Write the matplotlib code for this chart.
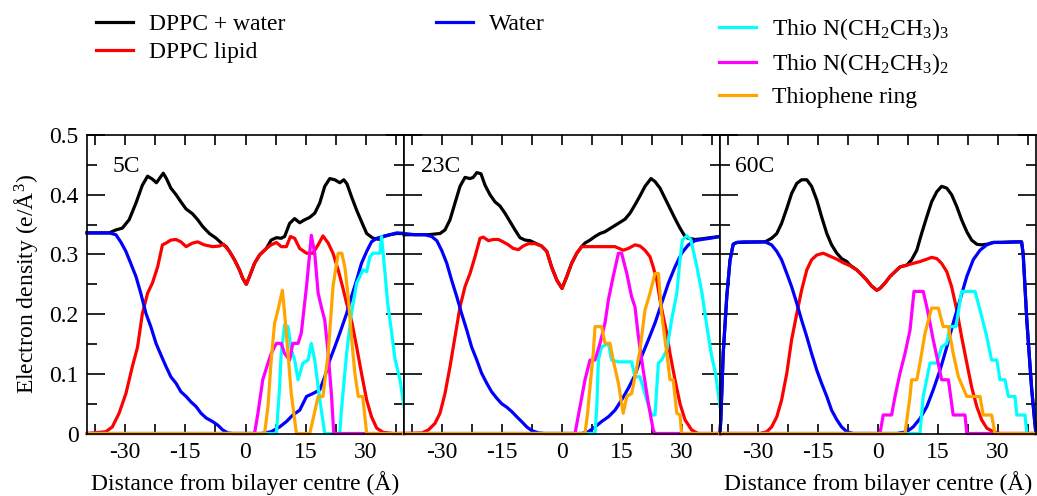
import numpy as np
import matplotlib
matplotlib.use("Agg")
import matplotlib.pyplot as plt
from matplotlib.ticker import MultipleLocator

plt.rcParams["font.family"] = ["Liberation Serif", "DejaVu Serif"]
plt.rcParams["font.size"] = 17
plt.rcParams["mathtext.fontset"] = "custom"
plt.rcParams["mathtext.rm"] = "Liberation Serif"
plt.rcParams["mathtext.it"] = "Liberation Serif:italic"
plt.rcParams["axes.unicode_minus"] = False

# ---- data: (distance in Angstrom, electron density) ----
temps = ["5C", "23C", "60C"]
labels = ["DPPC + water", "DPPC lipid", "Water",
          r"Thio N(CH$_2$CH$_3$)$_3$", r"Thio N(CH$_2$CH$_3$)$_2$", "Thiophene ring"]
colors = ["black", "#ff0000", "#0000ff", "#00ffff", "#ff00ff", "#ffa500"]

# 5C
total_5C = np.array([(-39.5, 0.336), (-34.0, 0.336), (-32.3, 0.341), (-30.7, 0.344), (-29.0, 0.358),
    (-27.3, 0.386), (-25.7, 0.416), (-24.4, 0.431), (-23.2, 0.426), (-22.2, 0.420), (-20.5, 0.436),
    (-19.7, 0.427), (-18.6, 0.411), (-17.3, 0.400), (-16.1, 0.388), (-14.8, 0.376), (-13.2, 0.368),
    (-11.9, 0.358), (-10.7, 0.347), (-9.0, 0.335), (-7.3, 0.327), (-5.7, 0.317), (-4.8, 0.313),
    (-4.0, 0.305), (-2.75, 0.291), (-1.5, 0.274), (-0.7, 0.260), (0.2, 0.250), (1.0, 0.263),
    (2.25, 0.285), (3.5, 0.299), (5.2, 0.310), (6.4, 0.324), (7.7, 0.328), (8.9, 0.327), (9.75, 0.330),
    (11.0, 0.352), (12.25, 0.360), (13.5, 0.353), (14.75, 0.358), (16.0, 0.362), (17.25, 0.369),
    (18.5, 0.386), (19.75, 0.414), (21.0, 0.427), (22.25, 0.425), (23.5, 0.420), (24.5, 0.425),
    (25.3, 0.418), (26.4, 0.397), (27.7, 0.374), (28.9, 0.355), (30.2, 0.335), (31.8, 0.327),
    (33.5, 0.325), (34.3, 0.330), (36.0, 0.333), (37.7, 0.335), (39.5, 0.335)])
lipid_5C = np.array([(-39.5, 0), (-34.8, 0.003), (-33.2, 0.011), (-31.5, 0.034), (-29.8, 0.067),
    (-28.2, 0.112), (-26.9, 0.145), (-25.7, 0.201), (-24.4, 0.235), (-23.2, 0.252), (-21.9, 0.279),
    (-20.7, 0.316), (-19.8, 0.319), (-18.6, 0.324), (-17.3, 0.325), (-16.1, 0.321), (-14.8, 0.313),
    (-13.2, 0.319), (-11.9, 0.321), (-10.3, 0.316), (-8.2, 0.313), (-6.5, 0.314), (-5.5, 0.317),
    (-4.0, 0.305), (-2.75, 0.291), (-1.5, 0.274), (-0.7, 0.260), (0.2, 0.250), (1.0, 0.263),
    (2.25, 0.285), (3.5, 0.299), (5.2, 0.310), (6.4, 0.316), (7.7, 0.320), (8.9, 0.313), (10.2, 0.313),
    (11.2, 0.330), (12.25, 0.327), (13.5, 0.310), (15.2, 0.302), (16.8, 0.302), (18.1, 0.316),
    (19.3, 0.331), (20.6, 0.319), (21.8, 0.302), (23.1, 0.274), (24.3, 0.243), (25.2, 0.218),
    (26.4, 0.190), (27.7, 0.145), (28.9, 0.101), (30.2, 0.056), (31.4, 0.028), (32.7, 0.009),
    (34.3, 0.002), (36.8, 0), (39.5, 0)])
water_5C = np.array([(-39.5, 0.336), (-34.0, 0.336), (-32.3, 0.333), (-31.1, 0.321), (-29.8, 0.305),
    (-28.6, 0.285), (-27.3, 0.263), (-26.1, 0.235), (-24.8, 0.201), (-23.6, 0.179), (-22.3, 0.151),
    (-21.1, 0.132), (-19.8, 0.112), (-18.6, 0.095), (-17.3, 0.084), (-16.1, 0.070), (-14.8, 0.062),
    (-13.6, 0.053), (-12.3, 0.045), (-11.1, 0.034), (-9.8, 0.026), (-8.2, 0.020), (-6.9, 0.014),
    (-5.7, 0.006), (-4.4, 0.001), (-3.2, 0), (3.9, 0), (6.4, 0.003), (8.5, 0.011), (10.2, 0.020),
    (11.8, 0.031), (13.5, 0.039), (15.2, 0.062), (16.8, 0.067), (18.5, 0.073), (19.75, 0.095),
    (21.0, 0.123), (22.25, 0.145), (23.5, 0.168), (25.2, 0.201), (26.4, 0.229), (27.7, 0.257),
    (28.9, 0.285), (30.2, 0.305), (31.4, 0.321), (32.7, 0.327), (34.3, 0.330), (36.0, 0.333),
    (37.7, 0.336), (39.5, 0.335)])
thio3_5C = np.array([(-39.5, 0), (7.7, 0), (8.5, 0.078), (8.9, 0.134), (9.75, 0.182), (10.6, 0.179),
    (11.4, 0.140), (12.25, 0.123), (13.1, 0.090), (14.3, 0.118), (15.6, 0.123), (16.4, 0.151),
    (17.25, 0.123), (18.1, 0.078), (18.9, 0.039), (19.75, 0), (23.5, 0), (23.9, 0.039), (25.2, 0.134),
    (26.4, 0.201), (27.7, 0.252), (29.3, 0.274), (30.2, 0.271), (31.0, 0.296), (31.8, 0.302),
    (33.5, 0.302), (33.9, 0.330), (34.75, 0.27), (35.4, 0.22), (36.4, 0.17), (37.25, 0.125),
    (38.5, 0.09), (39.5, 0.045)])
thio2_5C = np.array([(-39.5, 0), (2.25, 0), (3.1, 0.034), (4.3, 0.090), (5.6, 0.118), (6.4, 0.134),
    (7.7, 0.151), (8.9, 0.151), (9.75, 0.134), (11.0, 0.123), (11.8, 0.151), (13.1, 0.151),
    (13.9, 0.168), (15.2, 0.246), (16.0, 0.302), (16.4, 0.332), (17.25, 0.302), (18.1, 0.235),
    (18.9, 0.212), (19.75, 0.190), (20.6, 0.134), (21.4, 0.067), (22.0, 0), (39.5, 0)])
ring_5C = np.array([(-39.5, 0), (4.75, 0), (5.6, 0.045), (6.4, 0.123), (7.25, 0.185), (8.1, 0.207),
    (9.2, 0.240), (9.75, 0.201), (10.6, 0.134), (11.4, 0.067), (12.25, 0.023), (12.7, 0), (16.0, 0),
    (16.8, 0.023), (18.1, 0.062), (19.3, 0.062), (20.6, 0.134), (21.8, 0.246), (23.1, 0.302),
    (24.0, 0.302), (24.75, 0.279), (25.6, 0.229), (26.4, 0.162), (27.25, 0.101), (28.1, 0.062),
    (29.2, 0.062), (29.75, 0.028), (30.2, 0), (39.5, 0)])

# 23C
total_23C = np.array([(-39.5, 0.333), (-33.4, 0.333), (-30.5, 0.335), (-29.25, 0.341), (-28, 0.358),
    (-26.75, 0.386), (-25.5, 0.414), (-24.25, 0.429), (-23, 0.427), (-22.2, 0.429), (-21.3, 0.437),
    (-20.25, 0.435), (-19.25, 0.416), (-18, 0.400), (-16.75, 0.388), (-15.5, 0.381), (-14.25, 0.369),
    (-13, 0.355), (-11.75, 0.341), (-10.5, 0.328), (-9.25, 0.324), (-8, 0.323), (-6.75, 0.319),
    (-5.1, 0.314), (-3.8, 0.305), (-2.6, 0.279), (-1.3, 0.257), (0, 0.243), (1.2, 0.263), (2.4, 0.285),
    (3.7, 0.302), (4.9, 0.313), (5.75, 0.319), (7, 0.324), (8.25, 0.330), (9.5, 0.335), (10.75, 0.338),
    (12.4, 0.345), (14.1, 0.352), (15.75, 0.359), (17, 0.369), (18.25, 0.383), (19.5, 0.398),
    (20.75, 0.414), (22.25, 0.427), (23.25, 0.422), (24.5, 0.411), (25.75, 0.394), (27, 0.377),
    (28.25, 0.360), (29.5, 0.344), (30.75, 0.330), (31.6, 0.327), (33.25, 0.325), (34.9, 0.326),
    (37, 0.328), (39.5, 0.330)])
lipid_23C = np.array([(-39.5, 0), (-35, 0.001), (-33.4, 0.006), (-31.75, 0.017), (-30.5, 0.034),
    (-29.25, 0.067), (-28, 0.112), (-26.75, 0.162), (-25.5, 0.212), (-24.25, 0.246), (-23, 0.268),
    (-21.75, 0.296), (-20.5, 0.327), (-19.7, 0.329), (-18.4, 0.323), (-17.2, 0.325), (-15.9, 0.325),
    (-14.7, 0.321), (-13.4, 0.316), (-12.2, 0.310), (-10.9, 0.308), (-9.7, 0.314), (-8.4, 0.318),
    (-6.75, 0.318), (-5.1, 0.314), (-3.8, 0.305), (-2.6, 0.279), (-1.3, 0.257), (0, 0.243),
    (1.2, 0.263), (2.4, 0.285), (3.7, 0.302), (4.9, 0.313), (6.6, 0.313), (8.25, 0.313), (9.9, 0.313),
    (11.6, 0.313), (13.25, 0.313), (15.3, 0.307), (16.6, 0.310), (18.25, 0.316), (19.5, 0.314),
    (20.75, 0.307), (22, 0.296), (22.8, 0.279), (23.7, 0.257), (24.5, 0.224), (25.3, 0.196),
    (26.2, 0.168), (27, 0.134), (28.25, 0.090), (29.5, 0.050), (30.75, 0.023), (32.4, 0.006),
    (34, 0), (39.5, 0)])
water_23C = np.array([(-39.5, 0.335), (-36.75, 0.333), (-34.25, 0.333), (-32.6, 0.330), (-31.3, 0.323),
    (-30.1, 0.307), (-28.8, 0.285), (-27.6, 0.257), (-26.3, 0.229), (-25.1, 0.201), (-23.8, 0.173),
    (-22.6, 0.145), (-21.3, 0.123), (-20.1, 0.101), (-18.8, 0.084), (-17.6, 0.070), (-16.3, 0.059),
    (-15.1, 0.050), (-13.8, 0.044), (-12.6, 0.037), (-11.3, 0.028), (-10.1, 0.020), (-8.8, 0.011),
    (-7.6, 0.005), (-5.9, 0.001), (-4.25, 0), (4.9, 0), (6.6, 0.003), (8.25, 0.011), (9.9, 0.020),
    (11.6, 0.028), (13.25, 0.039), (14.9, 0.056), (16.6, 0.076), (18.25, 0.098), (19.9, 0.129),
    (21.6, 0.157), (23.25, 0.185), (24.9, 0.218), (26.6, 0.252), (28.25, 0.279), (29.9, 0.302),
    (31.6, 0.316), (33.25, 0.323), (34.9, 0.325), (37, 0.327), (39.5, 0.330)])
thio3_23C = np.array([(-39.5, 0), (8.25, 0), (8.7, 0.045), (9.1, 0.123), (9.9, 0.145), (11.6, 0.151),
    (12.4, 0.123), (14.1, 0.120), (17.4, 0.120), (18.25, 0.095), (19.5, 0.095), (21.2, 0.056),
    (22.4, 0.031), (23.25, 0.031), (24.1, 0.118), (24.9, 0.123), (26.2, 0.140), (27.4, 0.190),
    (28.7, 0.235), (29.5, 0.291), (30.1, 0.324), (31.2, 0.331), (32.2, 0.325), (33.7, 0.28),
    (35.0, 0.235), (36.2, 0.18), (37.4, 0.13), (38.4, 0.10), (39.5, 0.045)])
thio2_23C = np.array([(-39.5, 0), (3.25, 0), (4.5, 0.045), (5.75, 0.090), (7, 0.123), (8.25, 0.123),
    (9.5, 0.151), (10.75, 0.185), (11.6, 0.224), (12.8, 0.263), (14.1, 0.302), (14.9, 0.302),
    (16.2, 0.268), (17.4, 0.229), (18.25, 0.212), (19.1, 0.162), (20.3, 0.106), (21.6, 0.050),
    (22.8, 0.006), (23.25, 0), (39.5, 0)])
ring_23C = np.array([(-39.5, 0), (5.75, 0), (6.4, 0.034), (7, 0.078), (7.8, 0.134), (8.25, 0.179),
    (9.9, 0.179), (10.75, 0.151), (12, 0.151), (12.8, 0.123), (14.1, 0.084), (15.3, 0.034),
    (16.2, 0.062), (17.4, 0.067), (18.25, 0.095), (19.5, 0.140), (20.75, 0.207), (22, 0.235),
    (23.25, 0.268), (24.1, 0.268), (24.9, 0.201), (26.2, 0.134), (27, 0.090), (27.8, 0.090),
    (28.7, 0.034), (29.5, 0.031), (29.9, 0), (39.5, 0)])

# 60C
total_60C = np.array([(-39.5, 0), (-39.3, 0.023), (-38.7, 0.134), (-37.8, 0.23), (-37, 0.29),
    (-36.2, 0.317), (-35.3, 0.320), (-28.25, 0.321), (-26.6, 0.327), (-25.3, 0.335), (-24.1, 0.352),
    (-22.8, 0.377), (-21.6, 0.402), (-20.3, 0.419), (-19.1, 0.425), (-17.8, 0.425), (-16.6, 0.414),
    (-15.3, 0.391), (-14.1, 0.363), (-12.8, 0.335), (-11.6, 0.316), (-10.3, 0.302), (-9.1, 0.293),
    (-7.8, 0.288), (-7, 0.282), (-5.3, 0.274), (-4.1, 0.266), (-2.8, 0.257), (-1.6, 0.247),
    (-0.3, 0.240), (0.5, 0.243), (1.75, 0.252), (3, 0.263), (4.25, 0.271), (5.5, 0.279), (7.2, 0.282),
    (8.4, 0.291), (9.7, 0.307), (10.9, 0.335), (12.2, 0.363), (13.4, 0.388), (14.7, 0.405),
    (15.9, 0.414), (17.2, 0.411), (18.4, 0.400), (19.7, 0.380), (20.9, 0.358), (22.2, 0.338),
    (23.4, 0.324), (24.7, 0.317), (25.9, 0.316), (27.2, 0.317), (28.8, 0.320), (35.9, 0.321),
    (36.3, 0.30), (37.2, 0.19), (38.4, 0.076), (39.25, 0.015), (39.5, 0)])
lipid_60C = np.array([(-39.5, 0), (-29.5, 0), (-27.8, 0.003), (-26.6, 0.011), (-25.3, 0.028),
    (-24.1, 0.056), (-22.8, 0.101), (-21.6, 0.157), (-20.3, 0.201), (-19.1, 0.240), (-17.8, 0.274),
    (-16.6, 0.291), (-15.3, 0.299), (-13.7, 0.302), (-12, 0.297), (-10.3, 0.292), (-8.7, 0.286),
    (-7, 0.281), (-5.3, 0.274), (-4.1, 0.266), (-2.8, 0.257), (-1.6, 0.247), (-0.3, 0.240),
    (0.5, 0.243), (1.75, 0.252), (3, 0.263), (4.25, 0.271), (5.5, 0.279), (7.2, 0.282), (8.8, 0.285),
    (10.5, 0.288), (12.2, 0.292), (13.4, 0.295), (14.7, 0.293), (15.9, 0.285), (17.2, 0.271),
    (18.4, 0.246), (19.7, 0.207), (20.9, 0.162), (22.2, 0.118), (23.4, 0.078), (24.7, 0.045),
    (25.9, 0.023), (27.2, 0.009), (28.8, 0.003), (30.5, 0), (39.5, 0)])
water_60C = np.array([(-39.5, 0), (-39.3, 0.023), (-38.7, 0.134), (-37.8, 0.23), (-37, 0.29),
    (-36.2, 0.317), (-35.3, 0.320), (-33.7, 0.321), (-31.2, 0.321), (-28.25, 0.321), (-26.6, 0.316),
    (-25.3, 0.305), (-24.1, 0.291), (-22.8, 0.268), (-21.6, 0.246), (-20.3, 0.218), (-19.1, 0.190),
    (-17.8, 0.162), (-16.6, 0.134), (-15.3, 0.106), (-14.1, 0.084), (-12.8, 0.062), (-11.6, 0.039),
    (-10.3, 0.023), (-9.1, 0.011), (-7.8, 0.003), (-6.2, 0), (4.7, 0), (7.2, 0.003), (8.8, 0.011),
    (10.5, 0.025), (12.2, 0.045), (13.8, 0.073), (15.5, 0.106), (17.2, 0.145), (18.8, 0.185),
    (20.5, 0.224), (22.2, 0.263), (23.8, 0.291), (25.5, 0.307), (27.2, 0.316), (28.8, 0.320),
    (31.3, 0.320), (33.8, 0.321), (35.9, 0.321), (36.3, 0.30), (37.2, 0.19), (38.4, 0.076),
    (39.25, 0.015), (39.5, 0)])
thio3_60C = np.array([(-39.5, 0), (10.5, 0), (11.3, 0.062), (13.0, 0.118), (14.7, 0.118), (15.9, 0.145),
    (17.2, 0.151), (18.0, 0.179), (19.5, 0.179), (20.9, 0.238), (24.25, 0.238), (25.5, 0.207),
    (27.2, 0.162), (28.4, 0.123), (29.7, 0.123), (30.5, 0.090), (31.75, 0.090), (32.6, 0.062),
    (34.25, 0.062), (34.7, 0.031), (36.75, 0.031), (37.2, 0), (39.5, 0)])
thio2_60C = np.array([(-39.5, 0), (0.5, 0), (1.3, 0.031), (3.4, 0.031), (4.25, 0.062), (5.5, 0.101),
    (6.75, 0.134), (8, 0.173), (9, 0.238), (11.3, 0.238), (12.2, 0.212), (13, 0.185), (13.8, 0.157),
    (14.7, 0.129), (15.9, 0.090), (17.6, 0.090), (18.8, 0.031), (21.75, 0.031), (22.2, 0), (39.5, 0)])
ring_60C = np.array([(-39.5, 0), (6.75, 0), (8, 0.062), (8.4, 0.090), (9.7, 0.090), (10.5, 0.118),
    (11.75, 0.168), (13.4, 0.210), (15.1, 0.210), (16.3, 0.179), (17.6, 0.179), (18.8, 0.134),
    (20.1, 0.095), (22.2, 0.062), (25.5, 0.062), (26.3, 0.031), (28.4, 0.031), (29.25, 0), (39.5, 0)])

series = {
    "5C": [total_5C, lipid_5C, water_5C, thio3_5C, thio2_5C, ring_5C],
    "23C": [total_23C, lipid_23C, water_23C, thio3_23C, thio2_23C, ring_23C],
    "60C": [total_60C, lipid_60C, water_60C, thio3_60C, thio2_60C, ring_60C],
}
x_ticks = [-30, -15, 0, 15, 30]
y_ticks = [0, 0.1, 0.2, 0.3, 0.4, 0.5]
y_ticklabels = ["0", "0.1", "0.2", "0.3", "0.4", "0.5"]

# ---- figure: three panels side by side ----
W, H = 1037, 496
fig = plt.figure(figsize=(W / 100, H / 100), dpi=100)
panel_left = [87, 404, 720]
panel_width = [317, 316, 316]
label_x = [0.082, 0.054, 0.047]

axes = []
for i, t in enumerate(temps):
    ax = fig.add_axes([panel_left[i] / W, 62.5 / H, panel_width[i] / W, 298.5 / H])
    for arr, c, lab in zip(series[t], colors, labels):
        ax.plot(arr[:, 0], arr[:, 1], color=c, lw=2.3, label=lab, clip_on=False,
                solid_joinstyle="round")
    ax.set_xlim(-39.5, 39.5)
    ax.set_ylim(0, 0.5)
    ax.set_xticks(x_ticks)
    ax.xaxis.set_minor_locator(MultipleLocator(7.5))
    ax.set_yticks(y_ticks)
    ax.yaxis.set_minor_locator(MultipleLocator(0.05))
    ax.tick_params(which="both", direction="in", top=True, right=True, width=1.2, pad=6)
    ax.tick_params(axis="x", which="both", length=7)
    ax.tick_params(axis="y", which="major", length=13)
    ax.tick_params(axis="y", which="minor", length=7)
    if i == 0:
        ax.set_yticklabels(y_ticklabels)
        ax.set_ylabel("Electron density (e/Å$^{3}$)", labelpad=7)
    else:
        ax.tick_params(axis="y", labelleft=False)
    if i != 1:
        ax.set_xlabel("Distance from bilayer centre (Å)", labelpad=6)
    for s in ax.spines.values():
        s.set_linewidth(1.2)
    ax.text(label_x[i], 0.438, t, transform=ax.get_yaxis_transform(), va="baseline")
    axes.append(ax)

# ---- legend entries at the top, one per row so the rows sit where they do in the figure ----
h = axes[0].get_lines()
legend_x = [96, 96, 436, 719, 719, 719]
legend_y = [24, 52, 24, 29, 64, 97]
for line, lx, ly in zip(h, legend_x, legend_y):
    fig.legend(handles=[line], loc="center left", bbox_to_anchor=(lx / W, 1 - ly / H),
               frameon=False, borderpad=0, borderaxespad=0, handlelength=1.55,
               handletextpad=0.7, fontsize=17)

fig.savefig("out.png", dpi=100)
